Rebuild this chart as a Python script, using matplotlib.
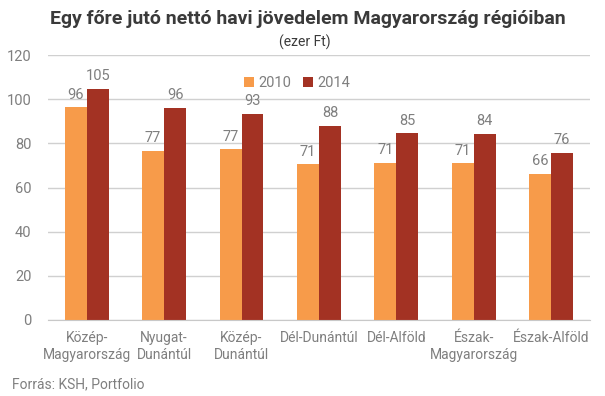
import matplotlib
matplotlib.use("Agg")
import matplotlib.pyplot as plt
import numpy as np

# data (ezer Ft)
regiok = ["Közép-\nMagyarország", "Nyugat-\nDunántúl", "Közép-\nDunántúl", "Dél-Dunántúl",
          "Dél-Alföld", "Észak-\nMagyarország", "Észak-Alföld"]
ev2010 = [96.3, 76.6, 77.4, 70.6, 71.2, 71.0, 66.1]
ev2014 = [104.6, 96.2, 93.4, 87.9, 84.6, 84.3, 75.7]

plt.rcParams['font.family'] = ['Roboto', 'DejaVu Sans']

c2010 = "#F79B4A"
c2014 = "#A33223"
szurke = "#7F7F7F"

fig = plt.figure(figsize=(6.05, 3.96), dpi=100)
ax = fig.add_axes([0.0793, 0.192, 0.8957, 0.669])

x = np.arange(len(regiok))
w = 0.284
b1 = ax.bar(x - w / 2, ev2010, w, color=c2010, label="2010", zorder=2)
b2 = ax.bar(x + w / 2, ev2014, w, color=c2014, label="2014", zorder=2)

for bars in (b1, b2):
    ax.bar_label(bars, fmt="%.0f", padding=4, color=szurke, fontsize=10.5)

ax.set_xlim(-0.5, len(regiok) - 0.5)
ax.set_ylim(0, 120)
ax.set_yticks(range(0, 121, 20))
ax.yaxis.grid(True, color="#D0D0D0", linewidth=1, zorder=0)
ax.set_xticks(x)
ax.set_xticklabels(regiok, color=szurke, fontsize=10, linespacing=1.3)
ax.tick_params(axis="y", colors=szurke, labelsize=10.5, length=0, pad=12)
ax.tick_params(axis="x", length=0, pad=8)
for s in ["top", "right", "left"]:
    ax.spines[s].set_visible(False)
ax.spines["bottom"].set_color("#C8C8C8")

ax.legend(loc="upper center", bbox_to_anchor=(0.46, 0.97), ncol=2, frameon=False,
          fontsize=10.5, labelcolor=szurke, handlelength=0.7, handleheight=0.7,
          handletextpad=0.3, columnspacing=0.8)

fig.text(0.508, 0.953, "Egy főre jutó nettó havi jövedelem Magyarország régióiban",
         ha="center", va="center", fontsize=14, fontweight="bold", color="#3A3A3A")
fig.text(0.504, 0.893, "(ezer Ft)", ha="center", va="center", fontsize=10, color="#3A3A3A")
fig.text(0.02, 0.03, "Forrás: KSH, Portfolio", ha="left", va="center", fontsize=10, color=szurke)

fig.savefig("out.png", dpi=100)
